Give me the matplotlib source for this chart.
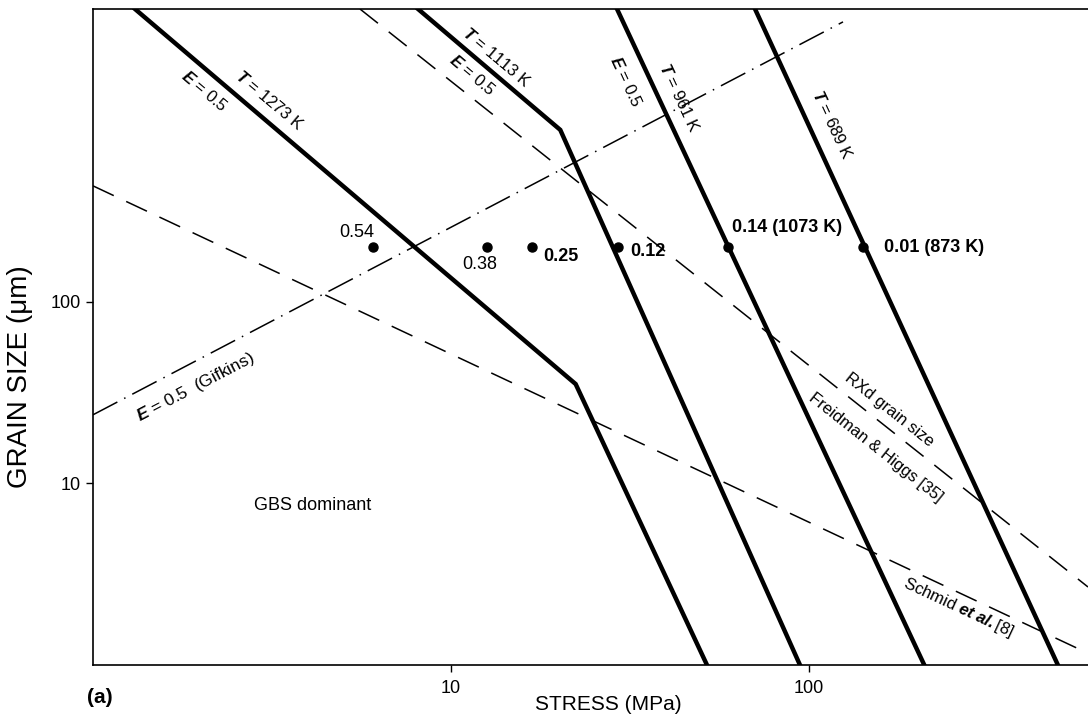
import matplotlib
matplotlib.use("Agg")
import matplotlib.pyplot as plt
from matplotlib.ticker import NullLocator

plt.rcParams['font.family'] = ['Liberation Sans', 'DejaVu Sans']
plt.rcParams['mathtext.fontset'] = 'custom'
plt.rcParams['mathtext.it'] = 'Liberation Sans:italic'
plt.rcParams['mathtext.bf'] = 'Liberation Sans:bold'
plt.rcParams['mathtext.bfit'] = 'Liberation Sans:bold:italic'

# thick deformation-map boundaries (stress MPa, grain size um)
t1273_x = [1.31, 22.3, 51.9]
t1273_y = [4110, 35.3, 1.0]
t1113_x = [8.09, 20.2, 94.4]
t1113_y = [4110, 887, 1.0]
t961_x = [29.1, 210]
t961_y = [4110, 1.0]
t689_x = [70.7, 496]
t689_y = [4110, 1.0]

# dashed / dash-dot lines
rxd_x = [5.57, 602]
rxd_y = [4110, 2.69]
schmid_x = [1.0, 602]
schmid_y = [436, 1.16]
gifkins_x = [1.0, 124.5]
gifkins_y = [23.9, 3490]

# experimental points
pt_x = [6.06, 12.6, 16.8, 29.3, 59.4, 141.5]
pt_y = [200, 200, 200, 200, 200, 200]
pt_lab = ['0.54', '0.38', '0.25', '0.12', '0.14 (1073 K)', '0.01 (873 K)']
pt_bold = ['normal', 'normal', 'bold', 'bold', 'bold', 'bold']
pt_lab_x = [5.46, 12.0, 20.3, 35.5, 86.8, 224]
pt_lab_y = [240, 160, 179, 190, 256, 199]

fig = plt.figure(figsize=(10.88, 7.24), dpi=100)
ax = fig.add_axes([93/1088, 59/724, 995/1088, 656/724])
ax.set_xscale('log')
ax.set_yscale('log')
ax.set_xlim(1, 602)
ax.set_ylim(1, 4110)

for xs, ys in [(t1273_x, t1273_y), (t1113_x, t1113_y), (t961_x, t961_y), (t689_x, t689_y)]:
    ax.plot(xs, ys, color='black', lw=3.2, solid_joinstyle='miter')

ax.plot(rxd_x, rxd_y, color='black', lw=1.1, linestyle=(0, (15, 9)))
ax.plot(schmid_x, schmid_y, color='black', lw=1.1, linestyle=(0, (15, 9)))
ax.plot(gifkins_x, gifkins_y, color='black', lw=1.1, linestyle=(0, (18, 5, 1, 5)))

ax.plot(pt_x, pt_y, 'o', color='black', ms=6.5)
for lab, lx, ly, w in zip(pt_lab, pt_lab_x, pt_lab_y, pt_bold):
    ax.text(lx, ly, lab, ha='center', va='center', fontsize=13, fontweight=w)

# line labels
tk = dict(ha='center', va='center', fontsize=12)
ax.text(3.12, 1280, r'$\mathbfit{T}$ = 1273 K', rotation=-40, **tk)
ax.text(2.05, 1450, r'$\mathbfit{E}$ = 0.5', rotation=-40, **tk)
ax.text(13.4, 2210, r'$\mathbfit{T}$ = 1113 K', rotation=-40, **tk)
ax.text(11.5, 1780, r'$\mathbfit{E}$ = 0.5', rotation=-40, **tk)
ax.text(43.5, 1340, r'$\mathbfit{T}$ = 961 K', rotation=-65, **tk)
ax.text(30.8, 1630, r'$\mathbfit{E}$ = 0.5', rotation=-65, **tk)
ax.text(116, 944, r'$\mathbfit{T}$ = 689 K', rotation=-65, **tk)
ax.text(1.93, 34.0, r'$\mathbfit{E}$ = 0.5  (Gifkins)', rotation=27.6, fontsize=12.5,
        ha='center', va='center')
ax.text(168, 25.6, 'RXd grain size', rotation=-38.4, **tk)
ax.text(154, 15.8, 'Freidman & Higgs [35]', rotation=-38.4, **tk)
ax.text(262, 2.08, r'Schmid $\mathbfit{et\ al.}$[8]', rotation=-25, **tk)
ax.text(4.12, 7.6, 'GBS dominant', ha='center', va='center', fontsize=13)

ax.set_xticks([10, 100])
ax.set_xticklabels(['10', '100'])
ax.set_yticks([10, 100])
ax.set_yticklabels(['10', '100'])
ax.xaxis.set_minor_locator(NullLocator())
ax.yaxis.set_minor_locator(NullLocator())
ax.tick_params(direction='out', length=5, width=1, labelsize=13)
ax.tick_params(axis='x', pad=6)
ax.spines['right'].set_visible(False)
for s in ['left', 'bottom', 'top']:
    ax.spines[s].set_linewidth(1.2)

ax.set_xlabel('STRESS (MPa)', fontsize=15)
ax.xaxis.set_label_coords(0.5176, -0.045)
ax.set_ylabel('GRAIN SIZE (\u03bcm)', fontsize=20)
ax.yaxis.set_label_coords(-0.06, 0.44)
fig.text(0.092, 0.037, '(a)', fontsize=15, fontweight='bold', ha='center', va='center')

fig.savefig('out.png', dpi=100)
